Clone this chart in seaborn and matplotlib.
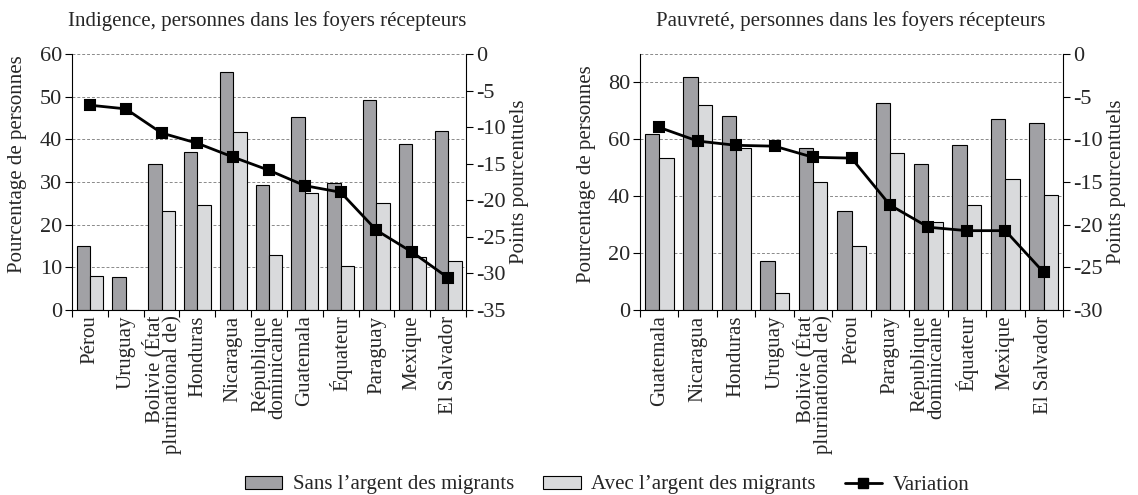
import numpy as np
import pandas as pd
import matplotlib
matplotlib.use("Agg")
import matplotlib.pyplot as plt
from matplotlib.patches import Patch
from matplotlib.lines import Line2D
import seaborn as sns

# Indigence panel
ind_pays = ["Pérou", "Uruguay", "Bolivie (État\nplurinational de)", "Honduras", "Nicaragua",
            "République\ndominicaine", "Guatemala", "Équateur", "Paraguay", "Mexique", "El Salvador"]
ind_sans = [15.0, 7.8, 34.2, 37.0, 55.8, 29.2, 45.3, 29.7, 49.3, 39.0, 42.0]
ind_avec = [8.0, 0.0, 23.3, 24.6, 41.8, 13.0, 27.5, 10.4, 25.1, 12.5, 11.5]
ind_var = [-7.0, -7.5, -10.8, -12.2, -14.1, -15.9, -18.0, -18.9, -24.1, -27.1, -30.6]

# Pauvreté panel
pov_pays = ["Guatemala", "Nicaragua", "Honduras", "Uruguay", "Bolivie (État\nplurinational de)", "Pérou",
            "Paraguay", "République\ndominicaine", "Équateur", "Mexique", "El Salvador"]
pov_sans = [61.9, 82.0, 68.1, 17.2, 57.0, 34.9, 72.9, 51.3, 57.9, 67.0, 65.6]
pov_avec = [53.5, 72.0, 57.0, 6.0, 45.0, 22.4, 55.1, 31.0, 36.9, 46.0, 40.3]
pov_var = [-8.6, -10.2, -10.7, -10.8, -12.1, -12.2, -17.7, -20.3, -20.7, -20.7, -25.6]

series = ["Sans l’argent des migrants", "Avec l’argent des migrants"]
dark_gray = "#a1a1a5"
light_gray = "#d9dadc"
grid_col = "#8a8a8a"

sns.set_theme(style="white")
plt.rcParams["font.family"] = ["Liberation Serif", "DejaVu Serif"]
plt.rcParams["font.size"] = 11


def panel(ax, pays, sans, avec, var, ylim, yticks, y2lim, y2ticks, ylab_xy):
    df = pd.DataFrame({
        "pays": pays * 2,
        "serie": [series[0]] * len(pays) + [series[1]] * len(pays),
        "valeur": sans + avec,
    })
    ax2 = ax.twinx()
    sns.barplot(data=df, x="pays", y="valeur", hue="serie", order=pays, hue_order=series,
                palette=[dark_gray, light_gray], width=0.75, gap=0, edgecolor="black",
                linewidth=0.8, saturation=1, legend=False, ax=ax, zorder=2)
    sns.pointplot(x=pays, y=var, order=pays, color="black", markers="s", markersize=6.5,
                  linewidth=2, ax=ax2)

    n = len(pays)
    ax.set_xlim(-0.5, n - 0.5)
    ax.set_ylim(*ylim)
    ax.set_yticks(yticks)
    ax2.set_ylim(*y2lim)
    ax2.set_yticks(y2ticks)
    ax2.set_yticklabels([str(t) for t in y2ticks])

    ax.set_xticks(range(n))
    ax.set_xticklabels(pays, rotation=90, ma="right", linespacing=0.85, fontsize=15)
    ax.set_xticks(np.arange(-0.5, n), minor=True)
    ax.tick_params(axis="x", which="major", length=0, pad=4)
    ax.tick_params(axis="x", which="minor", length=5, width=0.8, color="black", direction="out", bottom=True)
    ax.tick_params(axis="y", length=5, width=0.8, color="black", direction="out", left=True, labelsize=16, pad=2)
    ax2.tick_params(axis="y", length=5, width=0.8, color="black", direction="out", right=True, labelsize=16, pad=2)

    ax.yaxis.grid(True, linestyle=(0, (3, 2)), color=grid_col, linewidth=0.7)
    ax.set_axisbelow(True)
    if ylim[1] not in yticks:
        ax.axhline(ylim[1], linestyle=(0, (3, 2)), color=grid_col, linewidth=0.7, zorder=0)

    for a in (ax, ax2):
        a.spines["top"].set_visible(False)
        for s in a.spines.values():
            s.set_color("black")
            s.set_linewidth(0.8)
    ax.spines["right"].set_visible(False)
    ax2.spines["left"].set_visible(False)
    ax2.spines["bottom"].set_visible(False)

    ax.set_xlabel("")
    ax.set_ylabel("Pourcentage de personnes", fontsize=15)
    ax.yaxis.set_label_coords(*ylab_xy)
    ax2.set_ylabel("Points pourcentuels", fontsize=15, labelpad=3)
    return ax2


fig = plt.figure(figsize=(11.38, 4.95), dpi=100)
ax_l = fig.add_axes([0.0633, 0.3737, 0.3462, 0.5172])
ax_r = fig.add_axes([0.5624, 0.3737, 0.3717, 0.5172])

panel(ax_l, ind_pays, ind_sans, ind_avec, ind_var, (0, 60), [0, 10, 20, 30, 40, 50, 60],
      (-35, 0), [0, -5, -10, -15, -20, -25, -30, -35], (-0.115, 0.57))
panel(ax_r, pov_pays, pov_sans, pov_avec, pov_var, (0, 90), [0, 20, 40, 60, 80],
      (-30, 0), [0, -5, -10, -15, -20, -25, -30], (-0.103, 0.53))

fig.text(68 / 1138, 1 - 26 / 495, "Indigence, personnes dans les foyers récepteurs",
         ha="left", va="baseline", fontsize=15)
fig.text(656 / 1138, 1 - 26 / 495, "Pauvreté, personnes dans les foyers récepteurs",
         ha="left", va="baseline", fontsize=15)

handles = [
    Patch(facecolor=dark_gray, edgecolor="black", linewidth=0.8),
    Patch(facecolor=light_gray, edgecolor="black", linewidth=0.8),
    Line2D([], [], color="black", linewidth=2, marker="s", markersize=6.5),
]
fig.legend(handles, series + ["Variation"], loc="center", bbox_to_anchor=(607 / 1138, 10 / 495), ncol=3,
           frameon=False, fontsize=15, handlelength=1.8, handleheight=0.6, handletextpad=0.5,
           columnspacing=1.4, borderaxespad=0)

fig.savefig("out.png", dpi=100)
